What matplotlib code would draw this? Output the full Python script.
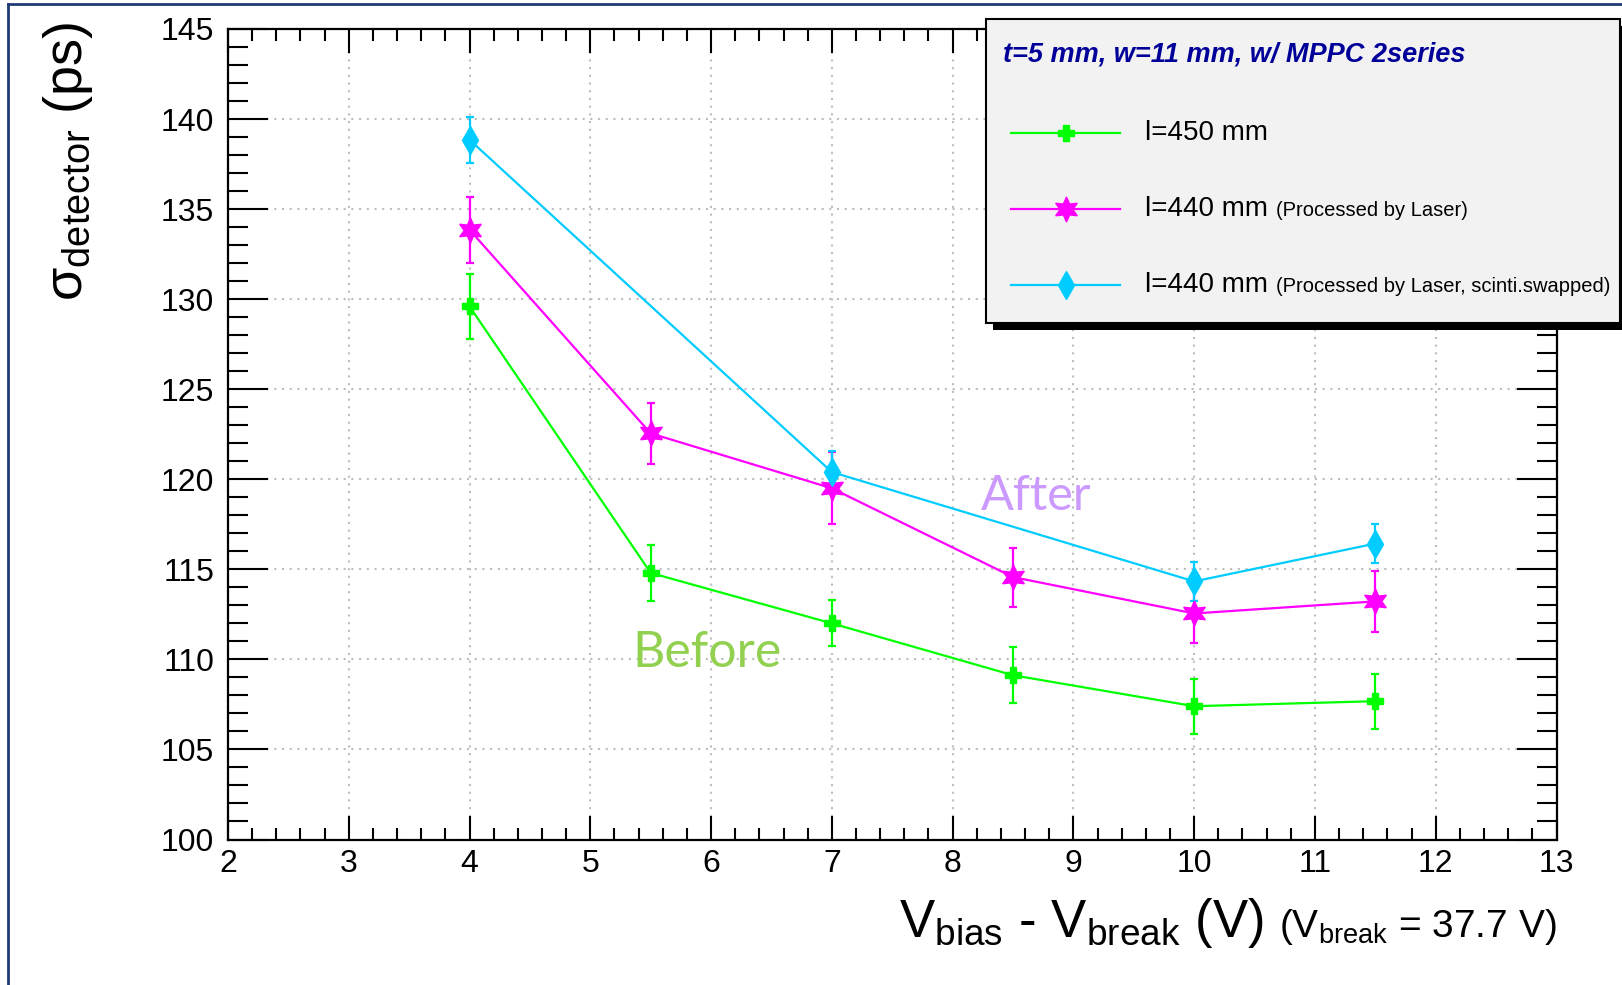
import matplotlib
matplotlib.use("Agg")
import matplotlib.pyplot as plt
from matplotlib.lines import Line2D
from matplotlib.patches import Rectangle
from matplotlib.ticker import MultipleLocator

plt.rcParams['font.family'] = ['Liberation Sans', 'DejaVu Sans']
plt.rcParams['mathtext.fontset'] = 'custom'
plt.rcParams['mathtext.rm'] = 'Liberation Sans'
plt.rcParams['mathtext.it'] = 'Liberation Sans:italic'
plt.rcParams['mathtext.bf'] = 'Liberation Sans:bold'

# data
vover = [4, 5.5, 7, 8.5, 10, 11.5]
sigma_450 = [129.6, 114.8, 112.0, 109.12, 107.4, 107.68]
err_450 = [1.8, 1.57, 1.28, 1.55, 1.53, 1.53]
sigma_440 = [133.85, 122.55, 119.5, 114.57, 112.55, 113.22]
err_440 = [1.82, 1.71, 2.0, 1.64, 1.65, 1.68]
vover_swap = [4, 7, 10, 11.5]
sigma_440_swap = [138.85, 120.4, 114.33, 116.43]
err_440_swap = [1.27, 1.15, 1.07, 1.07]

legend_title = "t=5 mm, w=11 mm, w/ MPPC 2series"
labels = ["l=450 mm", "l=440 mm", "l=440 mm"]
notes = ["", "(Processed by Laser)", "(Processed by Laser, scinti.swapped)"]

GREEN = '#00ff00'
MAGENTA = '#ff00ff'
CYAN = '#00ccff'

W, H = 1622, 985
fig = plt.figure(figsize=(W / 100, H / 100), dpi=100)


def fx(px):
    return px / W


def fy(py):
    return (H - py) / H


ax = fig.add_axes([fx(228), fy(839.5), fx(1556.5 - 228), (839.5 - 29) / H])
ax.set_xlim(2, 13)
ax.set_ylim(100, 145)

styles = [
    (vover, sigma_450, err_450, GREEN, 'P', 12),
    (vover, sigma_440, err_440, MAGENTA, (6, 1, 0), 18),
    (vover_swap, sigma_440_swap, err_440_swap, CYAN, 'd', 14),
]
for xs, ys, es, c, m, ms in styles:
    ax.errorbar(xs, ys, yerr=es, color=c, marker=m, ms=ms, mec=c, mfc=c,
                lw=1.6, elinewidth=1.6, capsize=3, capthick=1.6, zorder=3)

ax.xaxis.set_major_locator(MultipleLocator(1))
ax.xaxis.set_minor_locator(MultipleLocator(0.2))
ax.yaxis.set_major_locator(MultipleLocator(5))
ax.yaxis.set_minor_locator(MultipleLocator(1))
ax.tick_params(axis='both', which='both', direction='in', top=True, right=True,
               width=1.5, labelsize=23)
ax.tick_params(axis='x', which='major', length=17, pad=7)
ax.tick_params(axis='x', which='minor', length=8.6)
ax.tick_params(axis='y', which='major', length=29, pad=10)
ax.tick_params(axis='y', which='minor', length=14.5)
for s in ax.spines.values():
    s.set_linewidth(1.6)
ax.grid(True, which='major', color='#bdbdbd', lw=1.5, ls=(0, (1, 2.7)))
ax.set_axisbelow(True)

# annotations
ax.text(5.35, 109.55, "Before", color='#92d050', fontsize=36, family='Lato')
ax.text(8.23, 118.3, "After", color='#cc99ff', fontsize=35, family='Lato')

# axis titles
fig.text(fx(68), fy(22), r'$\mathregular{\sigma_{detector}}$ (ps)', rotation=90,
         ha='center', va='top', fontsize=39)
small = fig.text(fx(1557), fy(937), r'($\mathregular{V_{break}}$ = 37.7 V)',
                 ha='right', va='baseline', fontsize=28)
fig.canvas.draw()
bb = small.get_window_extent()
fig.text((bb.x0 - 16) / W, fy(937), r'$\mathregular{V_{bias}}$ - $\mathregular{V_{break}}$ (V)',
         ha='right', va='baseline', fontsize=38)

# legend box with shadow
fig.add_artist(Rectangle((fx(993), fy(330)), fx(640), (330 - 26) / H,
                         transform=fig.transFigure, facecolor='black', edgecolor='none', zorder=10))
fig.add_artist(Rectangle((fx(986), fy(323)), fx(634), (323 - 19) / H,
                         transform=fig.transFigure, facecolor='#f2f2f2', edgecolor='black',
                         lw=1.5, zorder=11))
fig.text(fx(1003), fy(55), legend_title, color='#000099', fontsize=19.5,
         fontweight='bold', fontstyle='italic', va='center', zorder=12)
rows = [133, 209, 285]
for (xs, ys, es, c, m, ms), lab, note, ry in zip(styles, labels, notes, rows):
    fig.add_artist(Line2D([fx(1011), fx(1120)], [fy(ry), fy(ry)], transform=fig.transFigure,
                          color=c, lw=1.6, zorder=12))
    fig.add_artist(Line2D([fx(1066)], [fy(ry)], transform=fig.transFigure, color=c,
                          marker=m, ms=ms, mec=c, mfc=c, zorder=13))
    t = fig.text(fx(1145), fy(ry), lab, fontsize=20, va='center', zorder=12)
    if note:
        fig.canvas.draw()
        tb = t.get_window_extent()
        fig.text((tb.x1 + 8) / W, fy(ry + 1), note, fontsize=14.5, va='center', zorder=12)

# frame around the picture
fig.add_artist(Line2D([fx(8), fx(8)], [fy(4), 0], transform=fig.transFigure,
                      color='#203a78', lw=2, zorder=20))
fig.add_artist(Line2D([fx(8), 1], [fy(4), fy(4)], transform=fig.transFigure,
                      color='#203a78', lw=2, zorder=20))

fig.savefig('out.png', dpi=100)
